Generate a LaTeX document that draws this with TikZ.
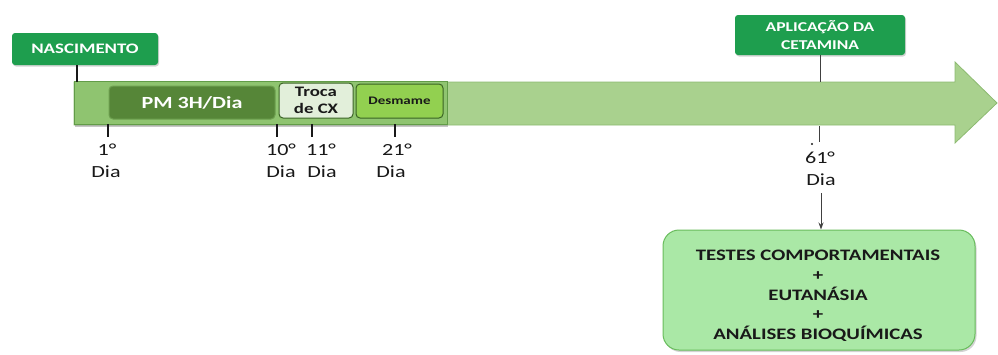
\documentclass[tikz,border=0pt]{standalone}
\usepackage{fontspec}
\setmainfont{Carlito}[FakeStretch=1.3]
\usetikzlibrary{arrows.meta,shadows}

\definecolor{arrowfill}{RGB}{169,209,142}
\definecolor{arrowedge}{RGB}{140,186,112}
\definecolor{bandfill}{RGB}{143,196,112}
\definecolor{bandedge}{RGB}{98,156,72}
\definecolor{tagfill}{RGB}{30,158,78}
\definecolor{pmfill}{RGB}{86,134,56}
\definecolor{pmedge}{RGB}{110,160,80}
\definecolor{trocafill}{RGB}{226,239,218}
\definecolor{desmfill}{RGB}{146,208,80}
\definecolor{darkedge}{RGB}{58,100,36}
\definecolor{outfill}{RGB}{170,232,166}
\definecolor{outedge}{RGB}{104,188,92}
\definecolor{ink}{RGB}{25,25,25}

\tikzset{
  x=1pt, y=-1pt,
  tag/.style={fill=tagfill, rounded corners=3pt, text=white, inner sep=0pt,
    font=\bfseries, align=center,
    drop shadow={opacity=0.35, shadow xshift=1pt, shadow yshift=-1.5pt}},
  phase/.style={rounded corners=4pt, inner sep=0pt, font=\bfseries, align=center,
    line width=1pt},
  daylabel/.style={anchor=base, inner sep=0pt, text=ink, font=\fontsize{17}{20}\selectfont},
  tick/.style={line width=1.8pt, ink},
  thinline/.style={line width=0.9pt, black!75},
}

\begin{document}
\begin{tikzpicture}
\useasboundingbox (0,0) rectangle (998,354);

% timeline arrow
\draw[fill=arrowfill, draw=arrowedge, line width=0.8pt]
  (74,82) -- (955,82) -- (955,62) -- (997,103) -- (955,143) -- (955,125) -- (74,125) -- cycle;
\coordinate (arrowtop) at (820,82);
\coordinate (arrowbot) at (819,126);

% first weeks band
\node[fill=bandfill, draw=bandedge, line width=0.6pt, minimum width=373pt, minimum height=43pt,
  inner sep=0pt, drop shadow={opacity=0.45, shadow xshift=0.5pt, shadow yshift=-2.5pt}]
  (band) at (260.5,102.5) {};

% phase boxes on the band
\node[phase, fill=pmfill, draw=pmedge, text=white, minimum width=166pt, minimum height=33pt,
  font=\bfseries\fontsize{17}{20}\selectfont] (pm) at (192,102.5) {PM 3H/Dia};
\node[phase, fill=trocafill, draw=darkedge, text=ink, minimum width=74pt, minimum height=35pt,
  font=\bfseries\fontsize{14.5}{16.5}\selectfont] (troca) at (316,100.5) {Troca\\de CX};
\node[phase, fill=desmfill, draw=darkedge, text=ink, minimum width=87pt, minimum height=34pt,
  font=\bfseries\fontsize{11.5}{13}\selectfont] (desm) at (399.5,101) {Desmame};

% event tags
\node[tag, minimum width=146pt, minimum height=32pt, font=\bfseries\fontsize{14.5}{17}\selectfont]
  (nasc) at (85,49) {NASCIMENTO};
\coordinate (nascfoot) at (77,82);
\draw[line width=1.8pt, ink] (nasc.south -| nascfoot) -- (nascfoot);

\node[tag, minimum width=170pt, minimum height=40pt, font=\bfseries\fontsize{13.5}{18.5}\selectfont]
  (apl) at (820,35) {APLICAÇÃO DA\\CETAMINA};
\draw[thinline] (apl.south) -- (arrowtop);

% day ticks
\foreach \n/\x in {t1/108, t10/277, t11/312, t21/395} {
  \coordinate (\n a) at (\x,124);
  \coordinate (\n b) at (\x,137);
  \draw[tick] (\n a) -- (\n b);
}

% day labels
\node[daylabel] (d1)  at (107,155) {1°};
\node[daylabel] (d1b) at (106,177) {Dia};
\node[daylabel] (d10)  at (281,155) {10°};
\node[daylabel] (d10b) at (281,177) {Dia};
\node[daylabel] (d11)  at (321,155) {11°};
\node[daylabel] (d11b) at (322,177) {Dia};
\node[daylabel] (d21)  at (397,155) {21°};
\node[daylabel] (d21b) at (391,177) {Dia};

% day 61 marker
\coordinate (t61) at (819,142);
\draw[thinline] (arrowbot) -- (t61);
\fill[ink] (812,144) circle (1.1pt);
\node[daylabel] (d61)  at (820,163) {61°};
\node[daylabel, inner sep=2pt] (d61b) at (821,185) {Dia};

% final procedures
\node[fill=outfill, draw=outedge, line width=1pt, rounded corners=16pt,
  minimum width=312pt, minimum height=120pt, inner sep=0pt,
  drop shadow={opacity=0.35, shadow xshift=1.5pt, shadow yshift=-2pt}]
  (out) at (819,290) {};
\node[inner sep=0pt, text=ink, align=center,
  font=\bfseries\fontsize{16}{19.7}\selectfont]
  (outtext) at (818,296) {TESTES COMPORTAMENTAIS\\+\\EUTANÁSIA\\+\\ANÁLISES BIOQUÍMICAS};

\draw[thinline, -{Stealth[length=7pt,width=5pt]}, shorten <=6pt] (d61b.south) -- (d61b.south |- out.north);

\end{tikzpicture}
\end{document}
